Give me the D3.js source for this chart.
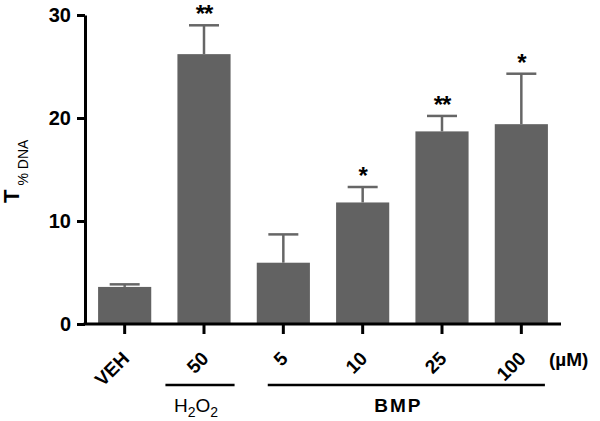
<!DOCTYPE html>
<html>
<head>
<meta charset="utf-8">
<script src="https://cdn.jsdelivr.net/npm/d3@7"></script>
<style>
  body { margin: 0; background: #fff; }
  text { font-family: "Liberation Sans", Arial, sans-serif; }
</style>
</head>
<body>
<svg id="chart" width="600" height="421"></svg>
<script>
// data
let labels = ["VEH", "50", "5", "10", "25", "100"];
let means = [3.6, 26.2, 5.95, 11.8, 18.7, 19.4];
let errs = [0.25, 2.8, 2.75, 1.5, 1.5, 4.9];
let stars = ["", "**", "", "*", "**", "*"];
let yTicks = [0, 10, 20, 30];
let groups = [
    {name: "H2O2", from: 1, to: 1},
    {name: "BMP", from: 2, to: 5}
];

let svg = d3.select("#chart");
let barColor = "#626262";

let x = d3.scaleBand()
    .domain(labels)
    .range([85, 561])
    .paddingInner(0.33)
    .paddingOuter(0.165);

let y = d3.scaleLinear()
    .domain([0, 30])
    .range([324, 15]);

let cx = i => x(labels[i]) + x.bandwidth() / 2;

// bars
svg.selectAll("rect.bar")
    .data(means)
    .enter().append("rect")
    .attr("class", "bar")
    .attr("x", (d, i) => x(labels[i]))
    .attr("y", d => y(d))
    .attr("width", x.bandwidth())
    .attr("height", d => y(0) - y(d))
    .attr("fill", barColor);

// error bars (upper only)
let capW = 30;
let eb = svg.selectAll("g.err")
    .data(means)
    .enter().append("g")
    .attr("class", "err")
    .attr("stroke", "#666")
    .attr("stroke-width", 2.5);
eb.append("line")
    .attr("x1", (d, i) => cx(i))
    .attr("x2", (d, i) => cx(i))
    .attr("y1", d => y(d))
    .attr("y2", (d, i) => y(d + errs[i]));
eb.append("line")
    .attr("x1", (d, i) => cx(i) - capW / 2)
    .attr("x2", (d, i) => cx(i) + capW / 2)
    .attr("y1", (d, i) => y(d + errs[i]))
    .attr("y2", (d, i) => y(d + errs[i]));

// significance stars
svg.selectAll("text.star")
    .data(means)
    .enter().append("text")
    .attr("class", "star")
    .attr("x", (d, i) => cx(i))
    .attr("y", (d, i) => y(d + errs[i]) - 3)
    .attr("text-anchor", "middle")
    .attr("font-size", 24)
    .attr("font-weight", "bold")
    .attr("letter-spacing", -1)
    .text((d, i) => stars[i]);

// y axis
let yAxis = d3.axisLeft(y)
    .tickValues(yTicks)
    .tickSize(8)
    .tickSizeOuter(0)
    .tickPadding(6);
let gy = svg.append("g")
    .attr("transform", "translate(85,0)")
    .call(yAxis);
gy.select(".domain").attr("stroke-width", 3).attr("stroke", "#000");
gy.selectAll(".tick line").attr("stroke-width", 3).attr("stroke", "#000");
gy.selectAll(".tick text")
    .attr("font-size", 20)
    .attr("font-weight", "bold")
    .attr("fill", "#000")
    .attr("font-family", "Liberation Sans, Arial, sans-serif");

// x axis (tick labels drawn separately, rotated)
let xAxis = d3.axisBottom(x)
    .tickSize(10)
    .tickSizeOuter(0)
    .tickFormat("");
let gx = svg.append("g")
    .attr("transform", "translate(0,324)")
    .call(xAxis);
gx.select(".domain").attr("stroke-width", 3).attr("stroke", "#000")
    .attr("d", "M83.5,0H561");
gx.selectAll(".tick line").attr("stroke-width", 3).attr("stroke", "#000");

svg.selectAll("g.xlab")
    .data(labels)
    .enter().append("g")
    .attr("class", "xlab")
    .attr("transform", (d, i) => "translate(" + (cx(i) + 1) + ",355) rotate(-45)")
    .append("text")
    .attr("text-anchor", "end")
    .attr("dy", "0.35em")
    .attr("font-size", 19)
    .attr("font-weight", "bold")
    .text(d => d);

// unit
svg.append("text")
    .attr("x", 549)
    .attr("y", 366)
    .attr("font-size", 19)
    .attr("font-weight", "bold")
    .text("(µM)");

// group lines and labels
groups.forEach(g => {
    let x0, x1, tx;
    if (g.name == "H2O2") {
        x0 = x(labels[g.from]) - 12;
        x1 = x(labels[g.to]) + x.bandwidth() + 4;
        tx = (x0 + x1) / 2 - 4;
    } else {
        x0 = x(labels[g.from]) + 11;
        x1 = x(labels[g.to]) + x.bandwidth() - 3;
        tx = (x0 + x1) / 2 - 8;
    }
    svg.append("line")
        .attr("x1", x0).attr("x2", x1)
        .attr("y1", 385).attr("y2", 385)
        .attr("stroke", "#000")
        .attr("stroke-width", 2.5);
    let t = svg.append("text")
        .attr("x", tx)
        .attr("y", 412)
        .attr("text-anchor", "middle")
        .attr("font-size", 19);
    if (g.name == "H2O2") {
        t.append("tspan").text("H");
        t.append("tspan").attr("font-size", 14).attr("dy", 5).text("2");
        t.append("tspan").attr("dy", -5).text("O");
        t.append("tspan").attr("font-size", 14).attr("dy", 5).text("2");
    } else {
        t.attr("font-weight", "bold").attr("letter-spacing", 2).text(g.name);
    }
});

// y label
let yl = svg.append("g")
    .attr("transform", "translate(19,203) rotate(-90)")
    .append("text")
    .attr("font-size", 22)
    .attr("font-weight", "bold");
yl.append("tspan").text("T");
yl.append("tspan")
    .attr("font-size", 14)
    .attr("font-weight", "normal")
    .attr("dy", 9)
    .attr("dx", 4)
    .text("% DNA");
</script>
</body>
</html>
